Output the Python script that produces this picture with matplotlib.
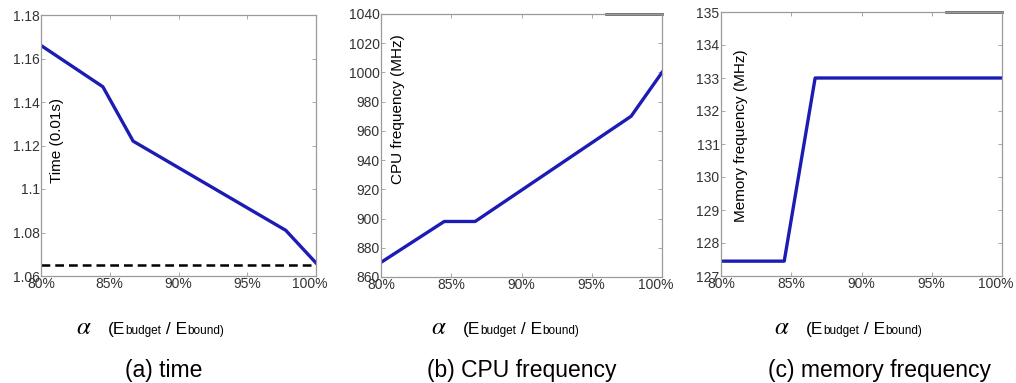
import matplotlib
matplotlib.use('Agg')
import matplotlib.pyplot as plt
import matplotlib.transforms as mtransforms
from matplotlib.ticker import FuncFormatter

plt.rcParams['font.family'] = ['Liberation Sans', 'DejaVu Sans']
plt.rcParams['mathtext.fontset'] = 'stix'

# data (alpha = Ebudget / Ebound)
alpha = [0.80, 0.845, 0.867, 0.978, 1.00]
time_vals = [1.166, 1.147, 1.122, 1.081, 1.066]
time_bound = 1.065
cpu_freq = [870, 898, 898, 970, 1000]
mem_freq = [127.45, 127.45, 133.0, 133.0, 133.0]

xticks = [0.80, 0.85, 0.90, 0.95, 1.00]
ylabels = ['Time (0.01s)', 'CPU frequency (MHz)', 'Memory frequency (MHz)']
captions = ['(a) time', '(b) CPU frequency', '(c) memory frequency']
ylims = [(1.06, 1.18), (860, 1040), (127, 135)]
yticks = [[1.06, 1.08, 1.1, 1.12, 1.14, 1.16, 1.18],
          list(range(860, 1041, 20)),
          list(range(127, 136))]

W, H = 1016, 383
fig = plt.figure(figsize=(W / 100, H / 100), dpi=100)

# axes boxes in pixels: left, right, top, bottom
boxes = [(41, 316, 15, 276), (381, 662, 14, 277), (721, 1002, 12, 276)]
label_pos = [(0.058, 0.52), (0.062, 0.637), (0.071, 0.53)]
blue = '#1c1cb4'

axes = []
for i, (l, r, t, b) in enumerate(boxes):
    ax = fig.add_axes([l / W, (H - b) / H, (r - l) / W, (b - t) / H])
    axes.append(ax)
    ax.set_xlim(0.80, 1.00)
    ax.set_ylim(*ylims[i])
    ax.set_xticks(xticks)
    ax.set_yticks(yticks[i])
    ax.xaxis.set_major_formatter(FuncFormatter(lambda v, p: '%d%%' % round(v * 100)))
    ax.yaxis.set_major_formatter(FuncFormatter(lambda v, p: ('%g' % v)))
    ax.tick_params(direction='in', length=3, width=0.6, colors='#999999',
                   labelcolor='#333333', labelsize=10, pad=1,
                   top=True, right=True)
    # last x label sits a bit left of its tick, as in the original
    last = ax.get_xticklabels()[-1]
    shift = mtransforms.ScaledTranslation(-6 / 100, 0, fig.dpi_scale_trans)
    last.set_transform(last.get_transform() + shift)
    for s in ax.spines.values():
        s.set_color('#9a9a9a')
        s.set_linewidth(0.9)
    ax.text(label_pos[i][0], label_pos[i][1], ylabels[i], rotation=90,
            transform=ax.transAxes, ha='center', va='center', fontsize=11)

axes[0].plot(alpha, time_vals, color=blue, lw=2.4)
axes[0].axhline(time_bound, color='black', lw=1.8, ls=(0, (3.5, 2)))
axes[1].plot(alpha, cpu_freq, color=blue, lw=2.4)
axes[2].plot(alpha, mem_freq, color=blue, lw=2.4)

# dark stub left on top border in (b) and (c)
axes[1].axhline(ylims[1][1], xmin=0.8, xmax=1, color='#666666', lw=2, clip_on=False)
axes[2].axhline(ylims[2][1], xmin=0.8, xmax=1, color='#666666', lw=2, clip_on=False)

# x axis labels: alpha (Ebudget / Ebound), with small sub-words on the baseline
alpha_x = [76, 431, 774]
paren_x = [108, 463, 806]
y_base = (H - 334) / H
pieces = [('(E', 12.5), ('budget', 8.5), (' / E', 12.5), ('bound)', 8.5)]
for ax_i in range(3):
    fig.text(alpha_x[ax_i] / W, y_base, r'$\alpha$', fontsize=18, va='baseline')
    prev = fig.text(paren_x[ax_i] / W, y_base, pieces[0][0], fontsize=pieces[0][1],
                    va='baseline')
    for txt, fs in pieces[1:]:
        prev = fig.add_artist(matplotlib.text.Annotation(
            txt, xy=(1, y_base), xycoords=(prev, 'figure fraction'),
            fontsize=fs, va='baseline', ha='left'))

cap_x = [164, 522, 879]
for i in range(3):
    fig.text(cap_x[i] / W, (H - 370) / H, captions[i], fontsize=16.5,
             ha='center', va='center')

fig.savefig('out.png', dpi=100)
